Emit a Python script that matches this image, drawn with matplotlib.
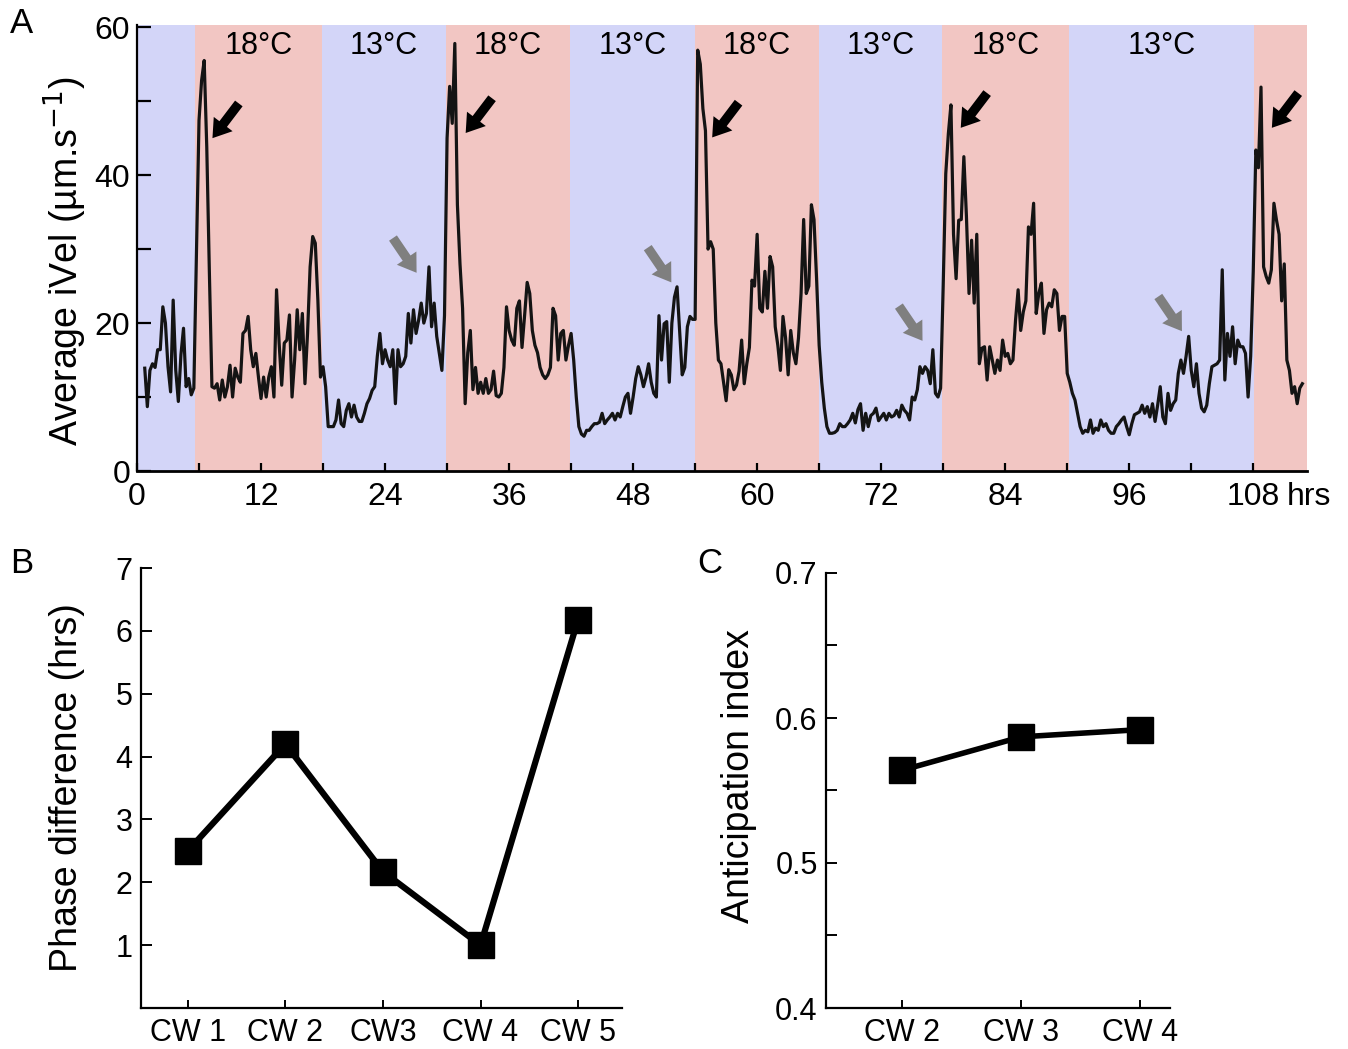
import numpy as np
import matplotlib
matplotlib.use('Agg')
import matplotlib.pyplot as plt
from matplotlib.ticker import MultipleLocator, FixedLocator

plt.rcParams['font.family'] = ['Liberation Sans', 'DejaVu Sans']

# ---- data -------------------------------------------------------------
# panel A: average iVel, one value every 15 min starting at 0.75 h
t_start = 0.75
t_step = 0.25
ivel = [
    13.9, 8.7, 13.6, 14.5, 14.0, 16.4, 16.4, 22.2, 20.0, 14.1, 10.7, 23.1,
    13.6, 9.4, 15.7, 19.3, 11.4, 12.5, 10.3, 11.2, 29.4, 47.4, 52.8, 55.5,
    43.8, 27.0, 11.4, 11.2, 11.8, 9.6, 12.3, 10.0, 11.4, 14.3, 10.0, 13.9,
    12.7, 12.0, 18.6, 19.0, 20.9, 16.4, 14.1, 15.9, 12.7, 9.8, 12.7, 10.0,
    12.7, 14.1, 10.0, 24.5, 17.3, 11.6, 17.3, 17.7, 21.1, 10.0, 15.0, 21.8,
    16.4, 21.3, 11.8, 18.6, 27.6, 31.7, 30.8, 23.1, 12.7, 14.1, 11.4, 6.0,
    6.0, 6.0, 6.9, 9.6, 6.4, 6.0, 8.2, 9.1, 7.3, 8.9, 7.3, 6.7,
    6.7, 7.8, 9.1, 9.8, 10.9, 11.4, 15.5, 18.6, 14.5, 16.4, 15.0, 14.1,
    16.4, 9.1, 16.4, 14.1, 14.5, 15.5, 21.3, 17.3, 21.8, 18.6, 20.4, 22.7,
    20.0, 21.3, 27.6, 19.5, 22.7, 18.2, 15.9, 13.6, 21.0, 45.0, 52.0, 47.0,
    57.8, 36.0, 28.0, 22.0, 9.1, 16.0, 19.0, 11.0, 14.0, 10.5, 12.0, 10.5,
    12.5, 10.5, 11.0, 13.5, 10.2, 10.0, 10.5, 14.0, 22.2, 19.0, 17.7, 17.0,
    22.0, 23.0, 16.7, 21.0, 25.5, 24.0, 19.0, 17.0, 16.0, 14.0, 13.0, 12.5,
    13.0, 14.0, 22.0, 21.0, 15.0, 18.6, 19.0, 15.0, 17.0, 18.6, 15.0, 10.0,
    6.0, 5.0, 4.7, 5.5, 5.5, 6.0, 6.4, 6.4, 6.6, 7.8, 6.4, 6.9,
    7.3, 7.8, 6.9, 7.8, 7.3, 8.7, 10.0, 10.5, 7.8, 10.0, 12.5, 14.1,
    13.0, 11.4, 12.7, 14.5, 12.0, 10.5, 10.0, 21.0, 15.0, 19.9, 20.2, 12.0,
    20.0, 23.5, 24.9, 19.0, 13.0, 14.0, 19.5, 20.9, 20.5, 20.5, 56.9, 55.0,
    49.0, 46.0, 30.0, 31.0, 30.0, 20.0, 15.0, 14.5, 12.0, 9.5, 13.7, 13.0,
    11.0, 11.6, 13.5, 17.7, 11.8, 14.5, 16.7, 25.8, 25.0, 32.0, 22.0, 21.5,
    27.0, 22.0, 29.0, 27.6, 19.5, 17.0, 13.6, 20.9, 18.0, 13.0, 19.0, 16.0,
    14.5, 18.0, 24.0, 34.0, 24.0, 25.0, 36.0, 34.0, 26.0, 17.0, 12.0, 8.5,
    6.0, 5.1, 5.1, 5.2, 5.5, 6.4, 6.0, 6.0, 6.4, 6.9, 7.8, 6.5,
    8.3, 9.1, 5.5, 7.8, 6.0, 7.5, 7.8, 8.5, 6.8, 7.3, 7.8, 6.9,
    7.8, 7.3, 7.5, 8.2, 7.3, 8.9, 8.2, 7.8, 6.9, 10.0, 9.6, 11.0,
    14.1, 13.2, 14.1, 13.6, 11.8, 16.4, 10.5, 10.0, 11.2, 25.0, 40.2, 45.6,
    49.5, 32.0, 26.0, 33.9, 34.0, 42.5, 34.4, 24.0, 31.2, 22.7, 32.0, 14.5,
    16.6, 16.8, 12.3, 16.8, 15.0, 13.2, 15.0, 13.6, 17.7, 15.5, 15.9, 14.5,
    15.0, 20.4, 24.5, 19.0, 21.5, 23.0, 33.0, 32.0, 36.2, 21.3, 24.0, 25.4,
    18.6, 21.8, 22.7, 22.2, 24.5, 24.0, 19.0, 20.9, 20.9, 13.2, 12.0, 10.5,
    9.6, 7.8, 6.0, 5.1, 5.5, 5.3, 6.9, 5.1, 5.8, 5.5, 6.9, 6.0,
    6.4, 5.5, 5.1, 5.1, 6.0, 6.4, 6.9, 7.3, 6.0, 4.9, 6.4, 7.6,
    7.8, 8.0, 8.9, 7.8, 8.7, 7.3, 9.1, 6.7, 8.9, 11.4, 7.3, 6.4,
    10.5, 8.2, 9.1, 9.6, 13.2, 15.0, 13.2, 15.5, 18.2, 13.6, 11.4, 14.5,
    10.5, 8.5, 8.0, 8.9, 11.8, 14.1, 14.3, 14.5, 15.0, 27.2, 12.3, 18.6,
    15.5, 19.5, 14.5, 17.7, 16.8, 16.8, 15.9, 10.0, 15.5, 27.0, 43.4, 41.0,
    51.9, 27.6, 26.3, 25.4, 27.2, 36.2, 33.9, 32.0, 23.0, 28.0, 15.0, 13.6,
    10.5, 11.4, 9.1, 11.2, 11.8,
]

# temperature phases (hrs) and their labels
phase_edges = [0, 5.6, 17.9, 29.9, 41.9, 54.0, 66.0, 77.9, 90.2, 108.1, 113.2]
phase_labels = ['', '18°C', '13°C', '18°C', '13°C', '18°C', '13°C', '18°C', '13°C', '']

# arrow tips: black = temperature-up response, grey = anticipation
black_arrows = [(7.3, 45.0), (31.8, 45.7), (55.65, 45.1), (79.7, 46.4), (109.8, 46.4)]
grey_arrows = [(27.05, 26.8), (51.7, 25.5), (76.0, 17.6), (101.1, 18.9)]

# panel B
cw_b = ['CW 1', 'CW 2', 'CW3', 'CW 4', 'CW 5']
phase_diff = [2.5, 4.2, 2.17, 1.0, 6.18]

# panel C
cw_c = ['CW 2', 'CW 3', 'CW 4']
anticip = [0.564, 0.587, 0.592]

# ---- figure -----------------------------------------------------------
W, H = 1348, 1049
fig = plt.figure(figsize=(W / 100, H / 100), dpi=100)


def rect(x0, y0, x1, y1):
    # pixel box -> figure fraction
    return [x0 / W, 1 - y1 / H, (x1 - x0) / W, (y1 - y0) / H]


blue = '#d3d5f8'
red = '#f2c6c3'
arrow_style = 'simple,head_length=0.75,head_width=1.0,tail_width=0.4'

# panel A
axA = fig.add_axes(rect(137, 25, 1307, 471))
for i in range(len(phase_edges) - 1):
    c = blue if i % 2 == 0 else red
    axA.axvspan(phase_edges[i], phase_edges[i + 1], color=c, lw=0, zorder=0)
    if phase_labels[i]:
        axA.text((phase_edges[i] + phase_edges[i + 1]) / 2, 57.4, phase_labels[i],
                 ha='center', va='center', fontsize=22)

t = t_start + t_step * np.arange(len(ivel))
axA.plot(t, ivel, color='#141414', lw=2.3, zorder=3)

for x, y in black_arrows:
    axA.annotate('', xy=(x, y), xytext=(19, 25), textcoords='offset points',
                 arrowprops=dict(arrowstyle=arrow_style, fc='black', ec='none',
                                 mutation_scale=17, shrinkA=0, shrinkB=0))
for x, y in grey_arrows:
    axA.annotate('', xy=(x, y), xytext=(-17, 25), textcoords='offset points',
                 arrowprops=dict(arrowstyle=arrow_style, fc='#7f7f7f', ec='none',
                                 mutation_scale=17, shrinkA=0, shrinkB=0))

axA.set_xlim(0, 113.2)
axA.set_ylim(0, 60.3)
axA.xaxis.set_major_locator(FixedLocator(np.arange(0, 109, 12)))
axA.xaxis.set_minor_locator(FixedLocator(np.arange(6, 113, 12)))
axA.yaxis.set_major_locator(MultipleLocator(20))
axA.yaxis.set_minor_locator(MultipleLocator(10))
axA.tick_params(axis='x', which='both', direction='in', length=6, width=1.6, labelsize=23, pad=8)
axA.tick_params(axis='y', which='both', direction='in', length=10, width=1.6, labelsize=23, pad=5)
axA.annotate('hrs', xy=(108, 0), xycoords=('data', 'axes fraction'), xytext=(24, -8),
             textcoords='offset points', ha='left', va='top', fontsize=23)
axA.set_ylabel('Average iVel (µm.s$^{-1}$)', fontsize=27)
axA.yaxis.set_label_coords(-0.041, 0.47)
for s in ['top', 'right']:
    axA.spines[s].set_visible(False)
axA.spines['left'].set_linewidth(1.6)
axA.spines['bottom'].set_linewidth(2.0)

# panel B
axB = fig.add_axes(rect(141, 568, 622, 1008))
xb = np.arange(len(cw_b))
axB.plot(xb, phase_diff, color='black', lw=4.5, marker='s', ms=19, zorder=3)
axB.set_xlim(-0.48, 4.45)
axB.set_ylim(0, 7)
axB.set_xticks(xb)
axB.set_xticklabels(cw_b)
axB.set_yticks(range(1, 8))
axB.tick_params(axis='x', direction='in', length=6, width=1.4, labelsize=22, pad=7)
axB.tick_params(axis='y', direction='in', length=8, width=1.4, labelsize=22, pad=6)
axB.set_ylabel('Phase difference (hrs)', fontsize=27)
axB.yaxis.set_label_coords(-0.116, 0.5)

# panel C
axC = fig.add_axes(rect(826, 573, 1170, 1008))
xc = np.arange(len(cw_c))
axC.plot(xc, anticip, color='black', lw=4, marker='s', ms=19, zorder=3)
axC.set_xlim(-0.64, 2.25)
axC.set_ylim(0.4, 0.7)
axC.set_xticks(xc)
axC.set_xticklabels(cw_c)
axC.yaxis.set_major_locator(FixedLocator([0.4, 0.5, 0.6, 0.7]))
axC.yaxis.set_minor_locator(FixedLocator([0.45, 0.55, 0.65]))
axC.set_yticklabels(['0.4', '0.5', '0.6', '0.7'])
axC.tick_params(axis='x', direction='in', length=6, width=1.4, labelsize=22, pad=7)
axC.tick_params(axis='y', which='both', direction='in', length=8, width=1.4, labelsize=22, pad=6)
axC.set_ylabel('Anticipation index', fontsize=27)
axC.yaxis.set_label_coords(-0.201, 0.533)

for ax in (axB, axC):
    for s in ['top', 'right']:
        ax.spines[s].set_visible(False)
    for s in ['left', 'bottom']:
        ax.spines[s].set_linewidth(1.6)

# panel letters
fig.text(10 / W, 1 - 7 / H, 'A', fontsize=25, ha='left', va='top')
fig.text(10 / W, 1 - 547 / H, 'B', fontsize=25, ha='left', va='top')
fig.text(697 / W, 1 - 547 / H, 'C', fontsize=25, ha='left', va='top')

fig.savefig('out.png', dpi=100)
